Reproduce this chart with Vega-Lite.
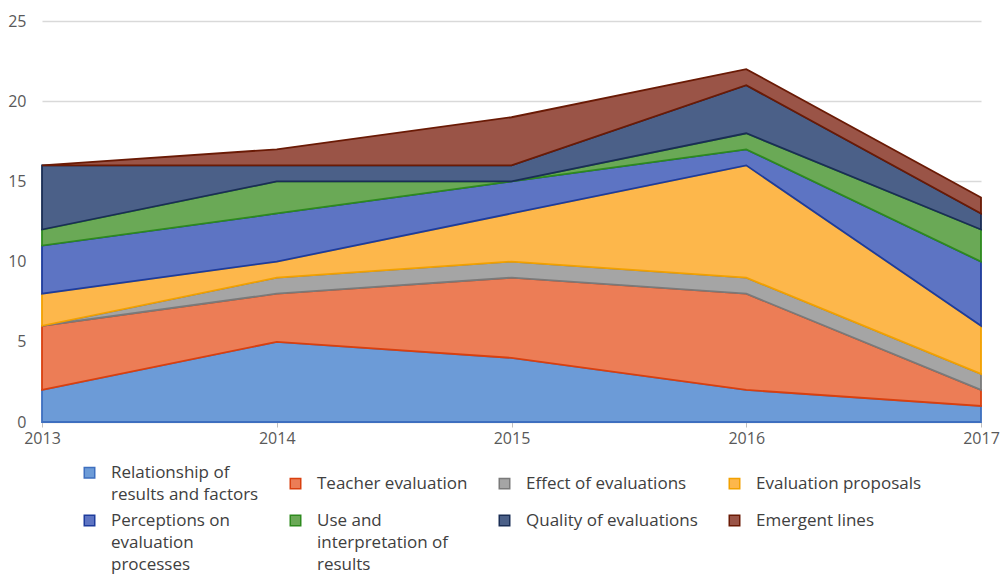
{
  "$schema": "https://vega.github.io/schema/vega-lite/v6.json",
  "width": 939,
  "height": 401,
  "autosize": {"type": "none"},
  "padding": {"left": 42, "top": 21, "right": 19, "bottom": 157},
  "config": {"view": {"stroke": null}, "font": "Open Sans"},
  "data": {
    "values": [
      {"year": "2013", "series": "Relationship of results and factors", "k": 1, "value": 2},
      {"year": "2014", "series": "Relationship of results and factors", "k": 1, "value": 5},
      {"year": "2015", "series": "Relationship of results and factors", "k": 1, "value": 4},
      {"year": "2016", "series": "Relationship of results and factors", "k": 1, "value": 2},
      {"year": "2017", "series": "Relationship of results and factors", "k": 1, "value": 1},
      {"year": "2013", "series": "Teacher evaluation", "k": 2, "value": 4},
      {"year": "2014", "series": "Teacher evaluation", "k": 2, "value": 3},
      {"year": "2015", "series": "Teacher evaluation", "k": 2, "value": 5},
      {"year": "2016", "series": "Teacher evaluation", "k": 2, "value": 6},
      {"year": "2017", "series": "Teacher evaluation", "k": 2, "value": 1},
      {"year": "2013", "series": "Effect of evaluations", "k": 3, "value": 0},
      {"year": "2014", "series": "Effect of evaluations", "k": 3, "value": 1},
      {"year": "2015", "series": "Effect of evaluations", "k": 3, "value": 1},
      {"year": "2016", "series": "Effect of evaluations", "k": 3, "value": 1},
      {"year": "2017", "series": "Effect of evaluations", "k": 3, "value": 1},
      {"year": "2013", "series": "Evaluation proposals", "k": 4, "value": 2},
      {"year": "2014", "series": "Evaluation proposals", "k": 4, "value": 1},
      {"year": "2015", "series": "Evaluation proposals", "k": 4, "value": 3},
      {"year": "2016", "series": "Evaluation proposals", "k": 4, "value": 7},
      {"year": "2017", "series": "Evaluation proposals", "k": 4, "value": 3},
      {"year": "2013", "series": "Perceptions on evaluation processes", "k": 5, "value": 3},
      {"year": "2014", "series": "Perceptions on evaluation processes", "k": 5, "value": 3},
      {"year": "2015", "series": "Perceptions on evaluation processes", "k": 5, "value": 2},
      {"year": "2016", "series": "Perceptions on evaluation processes", "k": 5, "value": 1},
      {"year": "2017", "series": "Perceptions on evaluation processes", "k": 5, "value": 4},
      {"year": "2013", "series": "Use and interpretation of results", "k": 6, "value": 1},
      {"year": "2014", "series": "Use and interpretation of results", "k": 6, "value": 2},
      {"year": "2015", "series": "Use and interpretation of results", "k": 6, "value": 0},
      {"year": "2016", "series": "Use and interpretation of results", "k": 6, "value": 1},
      {"year": "2017", "series": "Use and interpretation of results", "k": 6, "value": 2},
      {"year": "2013", "series": "Quality of evaluations", "k": 7, "value": 4},
      {"year": "2014", "series": "Quality of evaluations", "k": 7, "value": 1},
      {"year": "2015", "series": "Quality of evaluations", "k": 7, "value": 1},
      {"year": "2016", "series": "Quality of evaluations", "k": 7, "value": 3},
      {"year": "2017", "series": "Quality of evaluations", "k": 7, "value": 1},
      {"year": "2013", "series": "Emergent lines", "k": 8, "value": 0},
      {"year": "2014", "series": "Emergent lines", "k": 8, "value": 1},
      {"year": "2015", "series": "Emergent lines", "k": 8, "value": 3},
      {"year": "2016", "series": "Emergent lines", "k": 8, "value": 1},
      {"year": "2017", "series": "Emergent lines", "k": 8, "value": 1}
    ]
  },
  "mark": {"type": "area", "interpolate": "linear", "strokeWidth": 1.8, "fillOpacity": 1},
  "encoding": {
    "x": {
      "field": "year",
      "type": "ordinal",
      "scale": {"type": "point", "padding": 0},
      "axis": {
        "title": null,
        "labelAngle": 0,
        "domainColor": "#d9d9d9",
        "tickColor": "#bfbfbf",
        "tickSize": 5,
        "labelFontSize": 16,
        "labelColor": "#595959",
        "labelPadding": 3,
        "grid": false
      }
    },
    "y": {
      "field": "value",
      "type": "quantitative",
      "stack": "zero",
      "scale": {"domain": [0, 25], "nice": false},
      "axis": {
        "title": null,
        "values": [0, 5, 10, 15, 20, 25],
        "grid": true,
        "gridColor": "#d9d9d9",
        "gridWidth": 1.5,
        "domain": false,
        "ticks": false,
        "labelPadding": 16,
        "labelFontSize": 16,
        "labelColor": "#595959"
      }
    },
    "order": {"field": "k", "type": "quantitative"},
    "fill": {
      "field": "series",
      "type": "nominal",
      "scale": {
        "domain": ["Relationship of results and factors", "Teacher evaluation", "Effect of evaluations", "Evaluation proposals", "Perceptions on evaluation processes", "Use and interpretation of results", "Quality of evaluations", "Emergent lines"],
        "range": ["#6c9bd7", "#ec7d56", "#a5a5a5", "#fdb74b", "#5d74c3", "#6aa956", "#4b6088", "#9a5447"]
      },
      "legend": {
        "title": null,
        "orient": "none",
        "direction": "horizontal",
        "legendX": 39,
        "legendY": 443,
        "columns": 4,
        "columnPadding": 28,
        "rowPadding": 8,
        "symbolType": "square",
        "symbolSize": 110,
        "symbolStrokeWidth": 1.5,
        "labelFontSize": 17,
        "labelColor": "#404040",
        "labelOffset": 13,
        "labelLimit": 400,
        "labelExpr": "datum.label === 'Relationship of results and factors' ? ['Relationship of', 'results and factors'] : datum.label === 'Perceptions on evaluation processes' ? ['Perceptions on', 'evaluation', 'processes'] : datum.label === 'Use and interpretation of results' ? ['Use and', 'interpretation of', 'results'] : datum.label",
        "encode": {"labels": {"update": {"lineHeight": {"value": 22}}}}
      }
    },
    "stroke": {
      "field": "series",
      "type": "nominal",
      "scale": {
        "domain": ["Relationship of results and factors", "Teacher evaluation", "Effect of evaluations", "Evaluation proposals", "Perceptions on evaluation processes", "Use and interpretation of results", "Quality of evaluations", "Emergent lines"],
        "range": ["#3e6fbf", "#d9400f", "#7a7a7a", "#f2a100", "#1e3c9c", "#2e8a1e", "#1a2e55", "#6a1a05"]
      },
      "legend": {
        "title": null,
        "orient": "none",
        "direction": "horizontal",
        "legendX": 39,
        "legendY": 443,
        "columns": 4,
        "columnPadding": 28,
        "rowPadding": 8,
        "symbolType": "square",
        "symbolSize": 110,
        "symbolStrokeWidth": 1.5,
        "labelFontSize": 17,
        "labelColor": "#404040",
        "labelOffset": 13,
        "labelLimit": 400,
        "labelExpr": "datum.label === 'Relationship of results and factors' ? ['Relationship of', 'results and factors'] : datum.label === 'Perceptions on evaluation processes' ? ['Perceptions on', 'evaluation', 'processes'] : datum.label === 'Use and interpretation of results' ? ['Use and', 'interpretation of', 'results'] : datum.label",
        "encode": {"labels": {"update": {"lineHeight": {"value": 22}}}}
      }
    }
  }
}
